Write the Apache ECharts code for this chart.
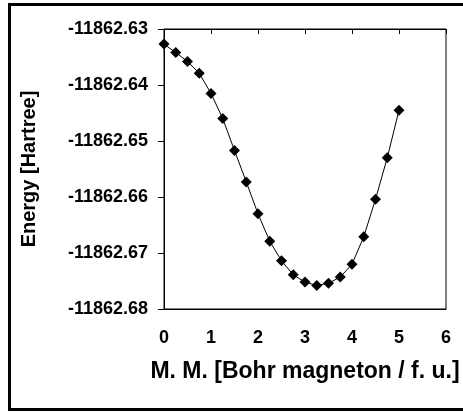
<!DOCTYPE html>
<html>
<head>
<meta charset="utf-8">
<script src="https://cdn.jsdelivr.net/npm/echarts@6/dist/echarts.min.js"></script>
<style>html,body{margin:0;padding:0;background:#fff;}#c{width:463px;height:412px;}</style>
</head>
<body>
<div id="c"></div>
<script>
const moment = [0, 0.25, 0.5, 0.75, 1.0, 1.25, 1.5, 1.75, 2.0, 2.25, 2.5, 2.75, 3.0, 3.25, 3.5, 3.75, 4.0, 4.25, 4.5, 4.75, 5.0];
const energy = [-11862.6327, -11862.6342, -11862.6358, -11862.6379, -11862.6415, -11862.6460, -11862.6517, -11862.6573,
  -11862.6630, -11862.6679, -11862.6714, -11862.6739, -11862.6752, -11862.6758, -11862.6754, -11862.6743,
  -11862.6720, -11862.6671, -11862.6604, -11862.6530, -11862.6445];
const xTicks = ['0', '1', '2', '3', '4', '5', '6'];
const yTicks = ['-11862.68', '-11862.67', '-11862.66', '-11862.65', '-11862.64', '-11862.63'];

const FONT = '"Liberation Sans", Arial, sans-serif';
const chart = echarts.init(document.getElementById('c'), null, {renderer: 'canvas'});
chart.setOption({
  animation: false,
  backgroundColor: '#fff',
  graphic: [{
    type: 'rect', silent: true,
    shape: {x: 9.5, y: 4.5, width: 480, height: 405},
    style: {fill: 'none', stroke: '#000', lineWidth: 3}
  }],
  grid: {left: 164, top: 29, width: 282, height: 280, show: true, borderColor: '#000', borderWidth: 1, backgroundColor: 'transparent'},
  xAxis: [{
    type: 'value', min: 0, max: 6, interval: 1, position: 'bottom',
    axisLine: {show: true, onZero: false, lineStyle: {color: '#000', width: 1}},
    axisTick: {show: false},
    splitLine: {show: false},
    axisLabel: {show: true, margin: 20, color: '#000', fontFamily: FONT, fontWeight: 'bold', fontSize: 18,
      formatter: function (v) { return xTicks[Math.round(v)]; }},
    name: 'M. M. [Bohr magneton / f. u.]', nameLocation: 'middle', nameGap: 51,
    nameTextStyle: {color: '#000', fontFamily: FONT, fontWeight: 'bold', fontSize: 23}
  }, {
    type: 'value', min: 0, max: 6, interval: 1, position: 'top',
    axisLine: {show: true, onZero: false, lineStyle: {color: '#000', width: 1}},
    axisTick: {show: true, inside: true, length: 5, lineStyle: {color: '#000', width: 1}},
    splitLine: {show: false},
    axisLabel: {show: false}
  }],
  yAxis: {
    type: 'value', min: -11862.68, max: -11862.63, interval: 0.01,
    axisLine: {show: true, onZero: false, lineStyle: {color: '#000', width: 1}},
    axisTick: {show: true, inside: false, length: 6, lineStyle: {color: '#000', width: 1}},
    splitLine: {show: false},
    axisLabel: {margin: 16, color: '#000', fontFamily: FONT, fontWeight: 'bold', fontSize: 18,
      formatter: function (v) { return yTicks[Math.round((v + 11862.68) / 0.01)]; }},
    name: 'Energy [Hartree]', nameLocation: 'middle', nameGap: 125, nameRotate: 90,
    nameTextStyle: {color: '#000', fontFamily: FONT, fontWeight: 'bold', fontSize: 20}
  },
  series: [{
    type: 'line', xAxisIndex: 0,
    data: moment.map((m, i) => [m, energy[i]]),
    symbol: 'diamond', symbolSize: 11, showSymbol: true,
    itemStyle: {color: '#000'},
    lineStyle: {color: '#000', width: 1}
  }]
});
</script>
</body>
</html>
